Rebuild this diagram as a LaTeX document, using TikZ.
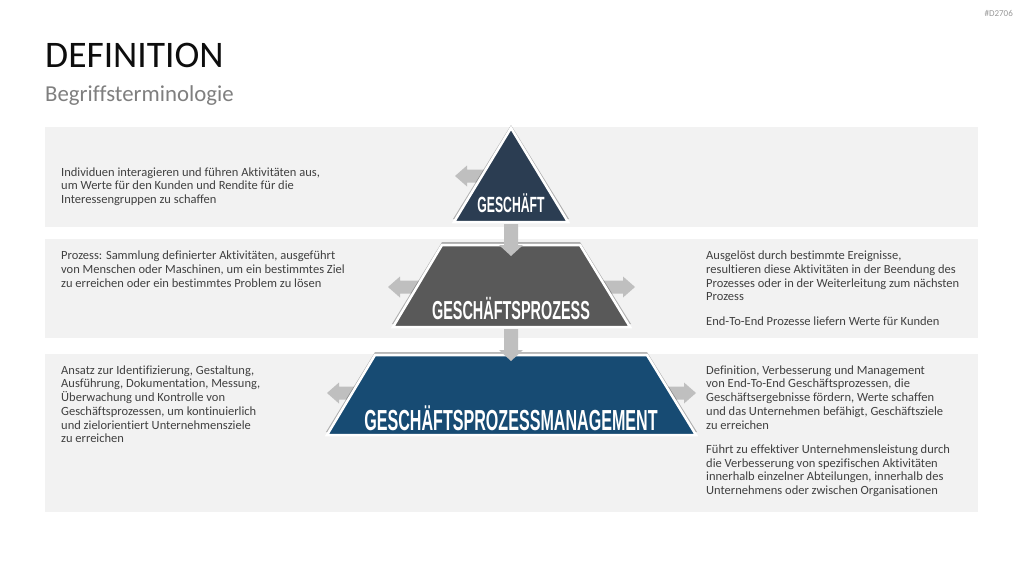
\documentclass[tikz,border=0pt]{standalone}
\usepackage{fontspec}
\setmainfont{Carlito}[Ligatures=NoCommon]
\newfontfamily\labelfont[FakeStretch=0.555]{Liberation Sans}
\definecolor{bandgray}{HTML}{F2F2F2}
\definecolor{arrowgray}{HTML}{BFBFBF}
\definecolor{navy}{HTML}{2B3D52}
\definecolor{midgray}{HTML}{595959}
\definecolor{deepblue}{HTML}{174B73}
\definecolor{bodytext}{HTML}{404040}
\definecolor{subgray}{HTML}{7F7F7F}
\begin{document}
\begin{tikzpicture}[x=1pt,y=-1pt,
  band/.style={fill=bandgray, draw=none},
  body/.style={anchor=base west, inner sep=0pt, text=bodytext, font=\fontsize{12.5}{13.75}\selectfont},
  pyr/.style={draw=white, line width=2.5pt, line join=miter},
  pyrshadow/.style={fill=black, opacity=0.28, draw=none},
  plabel/.style={inner sep=0pt, text=white, font=\labelfont\bfseries},
  sidearrow/.style={fill=arrowgray, draw=none}]
\useasboundingbox (0,0) rectangle (1024,576);
\fill[white] (0,0) rectangle (1024,576);

% header
\node[anchor=base east, inner sep=0pt, text=arrowgray!80!black, font=\fontsize{9}{10}\selectfont] (code) at (1013,16) {\#D2706};
\node[anchor=base west, inner sep=0pt, text=black!95, font=\fontsize{37.5}{40}\selectfont] (title) at (45,67) {DEFINITION};
\node[anchor=base west, inner sep=0pt, text=subgray, font=\fontsize{22.8}{26}\selectfont] (subtitle) at (45,101) {Begriffsterminologie};

% bands
\fill[band] (45,127) rectangle (978,227);
\fill[band] (45,239) rectangle (978,338);
\fill[band] (45,354) rectangle (978,512);

% side arrows (behind shapes)
\fill[sidearrow] (455,176) -- (467,165.5) -- (467,169.5) -- (490,169.5) -- (490,182.5) -- (467,182.5) -- (467,186.5) -- cycle;
\fill[sidearrow] (388,287) -- (400,276.5) -- (400,280.5) -- (428,280.5) -- (428,293.5) -- (400,293.5) -- (400,297.5) -- cycle;
\fill[sidearrow] (635,287) -- (623,276.5) -- (623,280.5) -- (595,280.5) -- (595,293.5) -- (623,293.5) -- (623,297.5) -- cycle;
\fill[sidearrow] (327,393) -- (339,382.5) -- (339,386.5) -- (365,386.5) -- (365,399.5) -- (339,399.5) -- (339,403.5) -- cycle;
\fill[sidearrow] (696,393) -- (684,382.5) -- (684,386.5) -- (658,386.5) -- (658,399.5) -- (684,399.5) -- (684,403.5) -- cycle;

% pyramid: bottom level
\coordinate (p3a) at (375,355);
\coordinate (p3b) at (647,355);
\coordinate (p3c) at (696,435);
\coordinate (p3d) at (327,435);
\fill[pyrshadow] ([yshift=3]p3a) -- ([yshift=3]p3b) -- ([yshift=3,xshift=1]p3c) -- ([yshift=3,xshift=-1]p3d) -- cycle;
\filldraw[pyr, fill=deepblue] (p3a) -- (p3b) -- (p3c) -- (p3d) -- cycle;
\node[plabel, font=\labelfont\bfseries\fontsize{29}{31}\selectfont] (gpm) at (511,418) {GESCHÄFTSPROZESSMANAGEMENT};

% middle level
\coordinate (p2a) at (442,245);
\coordinate (p2b) at (580,245);
\coordinate (p2c) at (630,327);
\coordinate (p2d) at (393,327);
\fill[pyrshadow] ([yshift=3]p2a) -- ([yshift=3]p2b) -- ([yshift=3,xshift=1]p2c) -- ([yshift=3,xshift=-1]p2d) -- cycle;
\filldraw[pyr, fill=midgray] (p2a) -- (p2b) -- (p2c) -- (p2d) -- cycle;
\node[plabel, font=\labelfont\bfseries\fontsize{26}{28}\selectfont] (gp) at (511,309) {GESCHÄFTSPROZESS};

% top level
\coordinate (p1a) at (511,128);
\coordinate (p1b) at (568,222);
\coordinate (p1c) at (454,222);
\fill[pyrshadow] ([yshift=3]p1a) -- ([yshift=3,xshift=1]p1b) -- ([yshift=3,xshift=-1]p1c) -- cycle;
\filldraw[pyr, fill=navy] (p1a) -- (p1b) -- (p1c) -- cycle;
\node[plabel, font=\labelfont\bfseries\fontsize{22}{24}\selectfont] (g) at (511,203.5) {GESCHÄFT};

% down arrows between levels
\coordinate (d1s) at (511,224);
\coordinate (d1t) at (511,256);
\coordinate (d2s) at (511,329);
\coordinate (d2t) at (511,361);
\fill[sidearrow] (d1t) -- ++(-12,-11) -- ++(5,0) -- ([xshift=-7]d1s) -- ([xshift=7]d1s) -- ++(0,21) -- ++(5,0) -- cycle;
\fill[sidearrow] (d2t) -- ++(-12,-11) -- ++(5,0) -- ([xshift=-7]d2s) -- ([xshift=7]d2s) -- ++(0,21) -- ++(5,0) -- cycle;

% texts
\node[body] (t1l) at (61,176) {\parbox[t]{300pt}{\raggedright
Individuen interagieren und führen Aktivitäten aus,\\
um Werte für den Kunden und Rendite für die\\
Interessengruppen zu schaffen}};
\node[body] (t2l) at (61,259.5) {\parbox[t]{320pt}{\raggedright
Prozess: Sammlung definierter Aktivitäten, ausgeführt\\
von Menschen oder Maschinen, um ein bestimmtes Ziel\\
zu erreichen oder ein bestimmtes Problem zu lösen}};
\node[body] (t2r) at (706,259.5) {\parbox[t]{270pt}{\raggedright
Ausgelöst durch bestimmte Ereignisse,\\
resultieren diese Aktivitäten in der Beendung des\\
Prozesses oder in der Weiterleitung zum nächsten\\
Prozess\\[10.5pt]
End-To-End Prozesse liefern Werte für Kunden}};
\node[body] (t3l) at (61,374) {\parbox[t]{260pt}{\raggedright
Ansatz zur Identifizierung, Gestaltung,\\
Ausführung, Dokumentation, Messung,\\
Überwachung und Kontrolle von\\
Geschäftsprozessen, um kontinuierlich\\
und zielorientiert Unternehmensziele\\
zu erreichen}};
\node[body] (t3r) at (706,374) {\parbox[t]{270pt}{\raggedright
Definition, Verbesserung und Management\\
von End-To-End Geschäftsprozessen, die\\
Geschäftsergebnisse fördern, Werte schaffen\\
und das Unternehmen befähigt, Geschäftsziele\\
zu erreichen\\[10.5pt]
Führt zu effektiver Unternehmensleistung durch\\
die Verbesserung von spezifischen Aktivitäten\\
innerhalb einzelner Abteilungen, innerhalb des\\
Unternehmens oder zwischen Organisationen}};
\end{tikzpicture}
\end{document}
